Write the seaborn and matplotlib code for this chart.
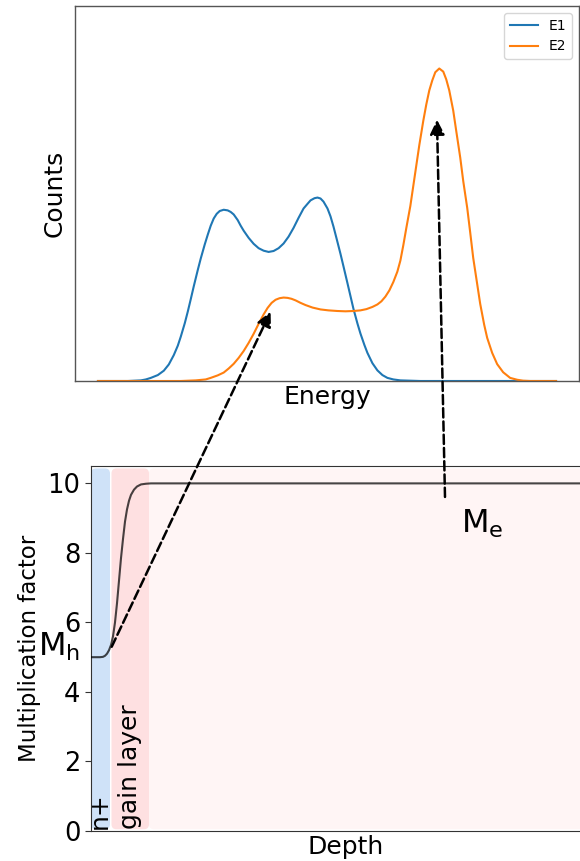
import numpy as np
import pandas as pd
import matplotlib
matplotlib.use("Agg")
import matplotlib.pyplot as plt
from matplotlib.patches import FancyBboxPatch, ConnectionPatch
import seaborn as sns

# ---------------- data ----------------
# Energy in arbitrary units (0..459), counts normalised to the E2 peak
E1_energy = [0, 30, 43, 48, 53, 60, 66, 71, 76, 80, 83, 87, 90, 93, 96, 100, 103, 107,
             110, 113, 116, 119, 122, 126, 130, 133, 136, 140, 143, 146, 151, 156, 161,
             166, 171, 176, 181, 186, 191, 196, 201, 206, 210, 213, 217, 220, 223, 226,
             230, 233, 236, 239, 243, 246, 250, 253, 256, 260, 263, 267, 270, 275, 280,
             285, 290, 296, 303, 313, 323, 459]
E1_counts = [0, 0, 0.002, 0.005, 0.01, 0.019, 0.033, 0.053, 0.083, 0.113, 0.142, 0.185,
             0.222, 0.262, 0.303, 0.355, 0.392, 0.437, 0.468, 0.497, 0.52, 0.535, 0.544,
             0.548, 0.546, 0.541, 0.533, 0.515, 0.497, 0.481, 0.458, 0.439, 0.425, 0.417,
             0.413, 0.416, 0.425, 0.44, 0.462, 0.490, 0.522, 0.552, 0.567, 0.578, 0.585,
             0.587, 0.584, 0.574, 0.552, 0.527, 0.494, 0.457, 0.407, 0.367, 0.313, 0.272,
             0.231, 0.184, 0.152, 0.115, 0.09, 0.057, 0.034, 0.019, 0.010, 0.005, 0.002,
             0.001, 0, 0]

E2_energy = [0, 83, 98, 108, 113, 120, 126, 131, 136, 141, 146, 151, 156, 161, 166, 170,
             174, 178, 182, 186, 190, 194, 198, 203, 208, 215, 223, 231, 240, 248, 256,
             263, 269, 275, 280, 284, 288, 292, 296, 300, 303, 306, 309, 313, 316, 319,
             322, 326, 329, 332, 335, 338, 342, 346, 349, 352, 356, 359, 363, 366, 370,
             373, 376, 380, 383, 387, 390, 395, 400, 406, 413, 420, 426, 433, 459]
E2_counts = [0, 0, 0.002, 0.005, 0.010, 0.018, 0.027, 0.04, 0.055, 0.074, 0.096, 0.122,
             0.151, 0.183, 0.213, 0.234, 0.25, 0.26, 0.265, 0.267, 0.266, 0.263, 0.258,
             0.25, 0.243, 0.235, 0.229, 0.226, 0.224, 0.223, 0.224, 0.226, 0.230, 0.237,
             0.245, 0.255, 0.27, 0.29, 0.317, 0.35, 0.385, 0.435, 0.49, 0.56, 0.625, 0.69,
             0.755, 0.833, 0.885, 0.93, 0.962, 0.988, 1.0, 0.99, 0.965, 0.93, 0.865, 0.80,
             0.715, 0.64, 0.554, 0.475, 0.394, 0.31, 0.247, 0.18, 0.138, 0.09, 0.054,
             0.028, 0.010, 0.004, 0.001, 0, 0]

series_names = ["E1", "E2"]
series_colors = ["#1f77b4", "#ff7f0e"]

# Depth in arbitrary units, multiplication factor
depth = [0, 9, 12, 14, 16, 18, 20, 22, 24, 26, 28, 30, 32, 34, 36, 38, 40, 43, 46, 50,
         55, 60, 509]
mult = [5.0, 5.0, 5.01, 5.04, 5.1, 5.2, 5.35, 5.6, 6.0, 6.55, 7.2, 7.85, 8.4, 8.9, 9.25,
        9.5, 9.67, 9.82, 9.91, 9.97, 9.99, 10.0, 10.0]

y_ticks = [0, 2, 4, 6, 8, 10]

# depth regions
region_start = [0.0, 20.5, 58.0]
region_end = [19.0, 58.0, 530.0]
region_color = ["#cfe2f8", "#fee0e1", "#fff5f5"]
region_label = ["n+", "gain layer", ""]
region_label_x = [9.0, 39.0, None]

# arrows: bottom (depth, M) -> top (energy, counts)
arrow_from = [(20.7, 5.30), (354.0, 9.61)]
arrow_to = [(173.0, 0.222), (339.7, 0.836)]

# ---------------- figure ----------------
plt.rcParams["font.family"] = ["DejaVu Sans"]
fig = plt.figure(figsize=(5.8, 8.61), dpi=100)
W, H = 580, 861
ax_top = fig.add_axes([75 / W, (H - 381) / H, 504 / W, 375 / H])
ax_bot = fig.add_axes([91 / W, (H - 831) / H, 509 / W, 365 / H])

df = pd.concat([
    pd.DataFrame({"Energy": E1_energy, "Counts": E1_counts, "series": "E1"}),
    pd.DataFrame({"Energy": E2_energy, "Counts": E2_counts, "series": "E2"}),
])
sns.lineplot(data=df, x="Energy", y="Counts", hue="series", hue_order=series_names,
             palette=series_colors, ax=ax_top, lw=1.5, sort=False)
ax_top.set_xlim(-23, 482)
ax_top.set_ylim(0, 1.2)
ax_top.set_xticks([])
ax_top.set_yticks([])
ax_top.set_xlabel("Energy", fontsize=18, labelpad=3)
ax_top.set_ylabel("Counts", fontsize=18, labelpad=6)
for s in ax_top.spines.values():
    s.set_color("#555555")
    s.set_linewidth(1.0)
ax_top.legend(loc="upper right", fontsize=10, frameon=True)

# bottom panel
r = 5.0
for x0, x1, c in zip(region_start, region_end, region_color):
    p = FancyBboxPatch((x0, 0.05), x1 - x0, 10.38,
                       boxstyle=f"round,pad=0,rounding_size={r}",
                       mutation_aspect=1 / 34.76,
                       fc=c, ec="none", zorder=0)
    ax_bot.add_patch(p)

bdf = pd.DataFrame({"Depth": depth, "M": mult})
sns.lineplot(data=bdf, x="Depth", y="M", ax=ax_bot, color="black", alpha=0.72,
             lw=1.5, sort=False, zorder=3)
ax_bot.set_xlim(0, 509)
ax_bot.set_ylim(0, 10.5)
ax_bot.set_xticks([])
ax_bot.set_yticks(y_ticks)
ax_bot.tick_params(axis="y", labelsize=18.5, length=4, color="#333333")
ax_bot.set_xlabel("Depth", fontsize=18, labelpad=3)
ax_bot.set_ylabel("Multiplication factor", fontsize=16.5, labelpad=5)
for s in ax_bot.spines.values():
    s.set_color("#333333")

for lab, lx in zip(region_label, region_label_x):
    if lab:
        ax_bot.text(lx, 0.05, lab, rotation=90, ha="center", va="bottom",
                    fontsize=18, zorder=4)

ax_bot.text(-53, 5.06, r"$\mathregular{M_h}$", fontsize=23, ha="left",
            va="baseline", clip_on=False, zorder=5)
ax_bot.text(370.5, 8.57, r"$\mathregular{M_e}$", fontsize=23, ha="left",
            va="baseline", zorder=5)

for (d, m), (e, c) in zip(arrow_from, arrow_to):
    con = ConnectionPatch(xyA=(d, m), coordsA=ax_bot.transData,
                          xyB=(e, c), coordsB=ax_top.transData,
                          arrowstyle="-|>", linestyle="--", lw=1.8, color="black",
                          mutation_scale=22, zorder=10)
    fig.add_artist(con)

fig.savefig("out.png", dpi=100)
